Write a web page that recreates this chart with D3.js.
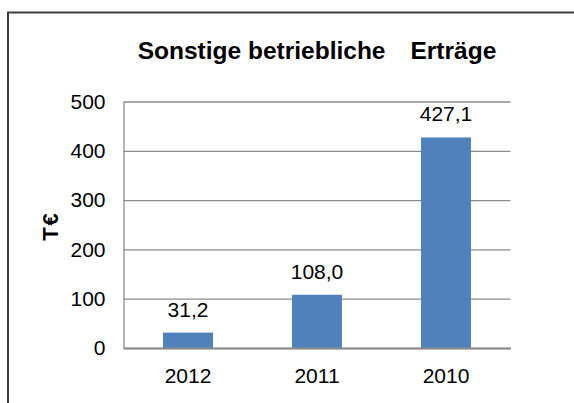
<!DOCTYPE html>
<html>
<head>
<meta charset="utf-8">
<script src="https://cdn.jsdelivr.net/npm/d3@7"></script>
<style>
  html, body { margin: 0; padding: 0; background: #fff; }
  svg { display: block; font-family: "Liberation Sans", Arial, sans-serif; }
</style>
</head>
<body>
<svg id="chart" width="574" height="403"></svg>
<script>
// Sonstige betriebliche Erträge in T€ by year
const years = ["2012", "2011", "2010"];
const values = [31.2, 108.0, 427.1];
const yTicks = [0, 100, 200, 300, 400, 500];

const svg = d3.select("#chart");
const plot = { left: 123.5, right: 510.5, top: 101.5, bottom: 348 };

// outer frame (continues past the right and bottom edge)
svg.append("rect")
  .attr("x", 8).attr("y", 12.5)
  .attr("width", 600).attr("height", 500)
  .attr("fill", "#fff")
  .attr("stroke", "#3c3c3c")
  .attr("stroke-width", 2);

const x = d3.scaleBand()
  .domain(years)
  .range([plot.left, plot.right])
  .paddingInner(0.613)
  .paddingOuter(0.3065);

const y = d3.scaleLinear()
  .domain([0, 500])
  .range([plot.bottom, plot.top]);

// y axis with horizontal gridlines
const yAxis = d3.axisLeft(y)
  .tickValues(yTicks)
  .tickFormat(d3.format("d"))
  .tickSizeInner(-(plot.right - plot.left))
  .tickSizeOuter(0)
  .tickPadding(18);

const gy = svg.append("g")
  .attr("transform", `translate(${plot.left},0)`)
  .call(yAxis);
gy.selectAll(".tick line").attr("stroke", "#8c8c8c").attr("stroke-width", 1.3);
gy.select(".domain").attr("stroke", "#8c8c8c").attr("stroke-width", 1.3);
gy.selectAll("text")
  .attr("font-size", 21)
  .attr("fill", "#000")
  .style("font-family", "'Liberation Sans', Arial, sans-serif");

// bars
svg.append("g").selectAll("rect")
  .data(values)
  .join("rect")
  .attr("x", (d, i) => x(years[i]))
  .attr("y", d => y(d))
  .attr("width", x.bandwidth())
  .attr("height", d => y(0) - y(d))
  .attr("fill", "#4f81bd");

// value labels
const fmt = d => d.toFixed(1).replace(".", ",");
svg.append("g").selectAll("text")
  .data(values)
  .join("text")
  .attr("x", (d, i) => x(years[i]) + x.bandwidth() / 2)
  .attr("y", d => y(d) - 16)
  .attr("text-anchor", "middle")
  .attr("font-size", 21)
  .attr("fill", "#000")
  .text(fmt);

// x axis
const xAxis = d3.axisBottom(x).tickSize(0).tickPadding(20);
const gx = svg.append("g")
  .attr("transform", `translate(0,${plot.bottom})`)
  .call(xAxis);
gx.select(".domain").attr("stroke", "#8c8c8c").attr("stroke-width", 2);
gx.selectAll("text")
  .attr("font-size", 21)
  .attr("fill", "#000")
  .style("font-family", "'Liberation Sans', Arial, sans-serif");

// title
const title = svg.append("text")
  .attr("x", 317)
  .attr("y", 59)
  .attr("text-anchor", "middle")
  .attr("font-size", 24.5)
  .attr("font-weight", "bold")
  .attr("fill", "#000");
title.append("tspan").text("Sonstige betriebliche");
title.append("tspan").attr("dx", 25).text("Erträge");

// y axis title
svg.append("text")
  .attr("transform", "translate(58,226) rotate(-90)")
  .attr("text-anchor", "middle")
  .attr("font-size", 22)
  .attr("font-weight", "bold")
  .attr("letter-spacing", 2)
  .attr("fill", "#000")
  .text("T€");
</script>
</body>
</html>
